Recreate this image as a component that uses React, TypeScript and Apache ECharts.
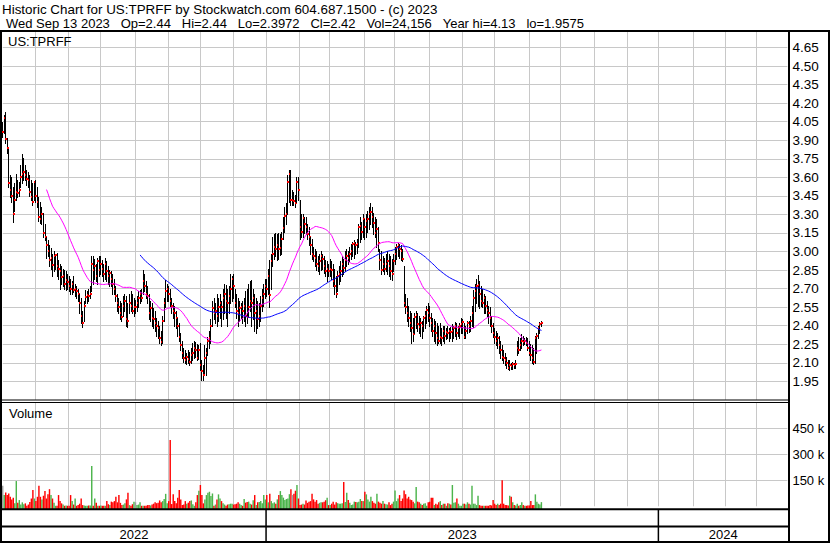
import { useEffect, useRef } from "react";
import * as echarts from "echarts";

// Each daily bar: [high, low, close, volume in thousands]
type Bar = [number, number, number, number];

const may22: Bar[] = [
  [4.05, 3.93, 3.97, 119], [4.1, 3.96, 4.08, 65], [4.13, 3.88, 3.91, 80], [3.92, 3.8, 3.84, 65],
  [3.83, 3.52, 3.55, 74], [3.62, 3.44, 3.5, 55], [3.6, 3.4, 3.45, 40], [3.52, 3.24, 3.3, 50],
  [3.55, 3.33, 3.42, 17], [3.63, 3.42, 3.48, 146], [3.58, 3.44, 3.47, 20], [3.56, 3.45, 3.5, 36],
  [3.7, 3.52, 3.6, 10], [3.79, 3.55, 3.63, 23], [3.76, 3.58, 3.64, 12], [3.7, 3.58, 3.62, 17],
  [3.66, 3.54, 3.59, 3], [3.64, 3.52, 3.58, 10], [3.62, 3.45, 3.48, 25], [3.58, 3.42, 3.44, 45],
  [3.55, 3.38, 3.4, 94], [3.57, 3.42, 3.56, 45],
];
const jun22: Bar[] = [
  [3.58, 3.4, 3.45, 30], [3.52, 3.36, 3.4, 55], [3.44, 3.25, 3.28, 119], [3.4, 3.23, 3.26, 55],
  [3.36, 3.22, 3.3, 40], [3.31, 3.12, 3.15, 61], [3.22, 3.09, 3.12, 88], [3.12, 2.95, 3.05, 45],
  [3.09, 2.96, 3.0, 70], [3.05, 2.88, 2.93, 99], [3.03, 2.86, 2.95, 65], [2.98, 2.8, 2.89, 45],
  [3.0, 2.84, 2.96, 20], [2.98, 2.86, 2.97, 3], [2.99, 2.8, 2.88, 3], [2.93, 2.78, 2.86, 65],
  [2.9, 2.7, 2.84, 30], [2.88, 2.74, 2.79, 17], [2.86, 2.72, 2.8, 10], [2.85, 2.7, 2.74, 3],
  [2.84, 2.69, 2.77, 5], [2.82, 2.7, 2.75, 3],
];
const jul22: Bar[] = [
  [2.8, 2.68, 2.72, 3], [2.78, 2.66, 2.7, 65], [2.76, 2.66, 2.74, 30], [2.8, 2.67, 2.69, 10],
  [2.74, 2.64, 2.7, 45], [2.72, 2.62, 2.68, 3], [2.7, 2.6, 2.66, 8], [2.66, 2.5, 2.58, 15],
  [2.62, 2.42, 2.48, 45], [2.52, 2.39, 2.42, 7], [2.6, 2.44, 2.56, 4], [2.69, 2.58, 2.63, 3],
  [2.68, 2.58, 2.65, 3], [2.7, 2.6, 2.64, 5], [2.72, 2.62, 2.66, 4], [2.96, 2.68, 2.9, 233],
  [2.96, 2.74, 2.85, 3], [2.94, 2.78, 2.88, 45], [2.9, 2.76, 2.8, 20], [2.95, 2.74, 2.92, 3],
  [2.96, 2.8, 2.85, 3],
];
const aug22: Bar[] = [
  [2.96, 2.82, 2.9, 4], [2.93, 2.8, 2.86, 3], [2.9, 2.76, 2.82, 3], [2.95, 2.78, 2.9, 3],
  [2.92, 2.76, 2.84, 30], [2.88, 2.74, 2.8, 12], [2.85, 2.72, 2.83, 7], [2.84, 2.72, 2.78, 27],
  [2.82, 2.66, 2.74, 23], [2.78, 2.66, 2.7, 30], [2.72, 2.6, 2.64, 55], [2.66, 2.52, 2.58, 23],
  [2.62, 2.5, 2.55, 65], [2.6, 2.45, 2.5, 20], [2.58, 2.44, 2.47, 7], [2.64, 2.48, 2.56, 10],
  [2.66, 2.52, 2.6, 17], [2.64, 2.4, 2.45, 40], [2.58, 2.39, 2.44, 78], [2.66, 2.5, 2.58, 7],
  [2.68, 2.52, 2.56, 3], [2.66, 2.5, 2.52, 12], [2.62, 2.48, 2.55, 27],
];
const sep22: Bar[] = [
  [2.61, 2.5, 2.55, 23], [2.64, 2.52, 2.58, 7], [2.68, 2.55, 2.62, 10], [2.69, 2.58, 2.66, 23],
  [2.7, 2.6, 2.62, 3], [2.85, 2.66, 2.76, 3], [2.82, 2.68, 2.72, 3], [2.76, 2.62, 2.66, 3],
  [2.72, 2.58, 2.64, 7], [2.66, 2.45, 2.5, 7], [2.6, 2.44, 2.54, 5], [2.58, 2.4, 2.46, 10],
  [2.54, 2.38, 2.45, 15], [2.52, 2.36, 2.42, 23], [2.46, 2.32, 2.4, 18], [2.44, 2.3, 2.38, 21],
  [2.4, 2.26, 2.3, 34], [2.36, 2.24, 2.27, 23], [2.48, 2.26, 2.44, 30], [2.62, 2.44, 2.58, 42],
  [2.77, 2.55, 2.68, 72], [2.74, 2.6, 2.7, 17],
];
const oct22: Bar[] = [
  [2.72, 2.6, 2.66, 30], [2.7, 2.56, 2.6, 383], [2.62, 2.5, 2.56, 13], [2.58, 2.46, 2.52, 69],
  [2.56, 2.4, 2.5, 30], [2.52, 2.38, 2.46, 17], [2.46, 2.32, 2.4, 50], [2.42, 2.28, 2.31, 94],
  [2.34, 2.2, 2.24, 40], [2.28, 2.14, 2.18, 7], [2.22, 2.11, 2.14, 10], [2.2, 2.1, 2.12, 30],
  [2.18, 2.09, 2.15, 15], [2.2, 2.1, 2.13, 21], [2.19, 2.08, 2.11, 30], [2.22, 2.1, 2.16, 34],
  [2.26, 2.12, 2.18, 12], [2.28, 2.14, 2.22, 3], [2.27, 2.15, 2.2, 23], [2.25, 2.12, 2.14, 65],
  [2.24, 2.13, 2.2, 90],
];
const nov22: Bar[] = [
  [2.26, 2.04, 2.08, 123], [2.12, 1.96, 2.03, 65], [2.08, 1.9575, 2.0, 17], [2.24, 2.02, 2.14, 40],
  [2.22, 2.0, 2.18, 65], [2.31, 2.16, 2.28, 78], [2.36, 2.22, 2.3, 84], [2.45, 2.26, 2.4, 60],
  [2.6, 2.4, 2.54, 74], [2.62, 2.45, 2.5, 3], [2.58, 2.42, 2.52, 10], [2.66, 2.4, 2.48, 40],
  [2.62, 2.44, 2.55, 69], [2.66, 2.46, 2.58, 45], [2.6, 2.4, 2.55, 30], [2.7, 2.45, 2.62, 18],
  [2.74, 2.5, 2.66, 10], [2.73, 2.46, 2.6, 3], [2.7, 2.4, 2.58, 10], [2.72, 2.5, 2.64, 12],
  [2.82, 2.58, 2.7, 15], [2.8, 2.6, 2.78, 15],
];
const dec22: Bar[] = [
  [2.82, 2.62, 2.72, 10], [2.7, 2.55, 2.58, 12], [2.66, 2.46, 2.52, 15], [2.62, 2.4, 2.5, 23],
  [2.6, 2.44, 2.54, 15], [2.58, 2.46, 2.55, 8], [2.6, 2.42, 2.52, 3], [2.62, 2.44, 2.56, 42],
  [2.68, 2.4, 2.48, 21], [2.7, 2.42, 2.47, 25], [2.74, 2.48, 2.55, 27], [2.76, 2.52, 2.6, 15],
  [2.77, 2.4, 2.58, 10], [2.7, 2.45, 2.62, 35], [2.66, 2.36, 2.5, 65], [2.62, 2.34, 2.52, 7],
  [2.6, 2.38, 2.45, 23], [2.58, 2.4, 2.48, 25], [2.64, 2.44, 2.56, 30], [2.7, 2.52, 2.62, 17],
  [2.74, 2.56, 2.66, 65], [2.78, 2.62, 2.72, 40],
];
const jan23: Bar[] = [
  [2.78, 2.64, 2.7, 65], [2.86, 2.66, 2.8, 23], [2.93, 2.55, 2.65, 72], [2.98, 2.7, 2.92, 30],
  [3.12, 2.88, 2.98, 17], [3.14, 2.94, 3.04, 23], [3.15, 2.96, 3.02, 15], [3.14, 2.93, 3.05, 40],
  [3.15, 2.94, 3.02, 65], [3.14, 2.97, 3.03, 88], [3.16, 2.98, 3.1, 65], [3.28, 3.1, 3.19, 50],
  [3.36, 3.16, 3.29, 36], [3.39, 3.22, 3.3, 42], [3.62, 3.3, 3.56, 45], [3.66, 3.4, 3.63, 70],
  [3.66, 3.38, 3.42, 99], [3.5, 3.38, 3.42, 65], [3.48, 3.38, 3.41, 72], [3.46, 3.36, 3.39, 90],
  [3.6, 3.4, 3.56, 123], [3.6, 3.42, 3.5, 45],
];
const feb23: Bar[] = [
  [3.42, 3.1, 3.2, 7], [3.3, 3.12, 3.16, 10], [3.3, 3.12, 3.27, 15], [3.28, 3.15, 3.22, 10],
  [3.28, 3.14, 3.2, 34], [3.22, 3.1, 3.14, 20], [3.2, 3.05, 3.12, 27], [3.12, 2.98, 3.05, 30],
  [3.1, 2.94, 2.98, 72], [3.04, 2.92, 2.96, 40], [3.02, 2.88, 2.95, 27], [3.0, 2.85, 2.9, 36],
  [2.96, 2.84, 2.88, 15], [2.98, 2.82, 2.92, 20], [3.0, 2.85, 2.96, 23], [2.98, 2.86, 2.94, 23],
  [2.96, 2.83, 2.88, 27], [2.93, 2.8, 2.84, 35], [2.92, 2.76, 2.86, 50], [2.9, 2.8, 2.84, 7],
];
const mar23: Bar[] = [
  [2.94, 2.8, 2.86, 7], [2.92, 2.78, 2.85, 15], [2.9, 2.72, 2.76, 27], [2.86, 2.66, 2.72, 10],
  [2.8, 2.63, 2.66, 23], [2.84, 2.68, 2.8, 18], [2.88, 2.74, 2.82, 15], [2.92, 2.76, 2.84, 15],
  [2.96, 2.8, 2.9, 17], [2.94, 2.82, 2.87, 140], [3.0, 2.84, 2.93, 25], [3.02, 2.88, 2.96, 78],
  [3.0, 2.9, 2.95, 36], [3.04, 2.92, 2.98, 20], [3.06, 2.94, 3.0, 7], [3.08, 2.96, 3.06, 10],
  [3.09, 2.95, 3.07, 27], [3.08, 2.98, 3.05, 25], [3.1, 2.99, 3.06, 23], [3.22, 3.04, 3.2, 27],
  [3.28, 3.08, 3.21, 42], [3.24, 3.1, 3.16, 30], [3.3, 3.12, 3.26, 30],
];
const apr23: Bar[] = [
  [3.26, 3.1, 3.2, 84], [3.3, 3.12, 3.25, 69], [3.33, 3.16, 3.26, 40], [3.36, 3.18, 3.3, 27],
  [3.39, 3.22, 3.32, 55], [3.36, 3.2, 3.28, 30], [3.31, 3.14, 3.23, 20], [3.28, 3.12, 3.15, 15],
  [3.26, 3.04, 3.18, 72], [3.2, 3.0, 3.07, 27], [3.02, 2.86, 2.93, 20], [3.0, 2.82, 2.85, 15],
  [2.96, 2.84, 2.9, 30], [2.95, 2.82, 2.86, 15], [2.98, 2.84, 2.9, 12], [3.0, 2.82, 2.92, 10],
  [2.98, 2.8, 2.88, 23], [2.96, 2.78, 2.84, 7], [2.94, 2.77, 2.82, 15], [2.98, 2.84, 2.92, 27],
];
const may23: Bar[] = [
  [3.04, 2.9, 2.98, 92], [3.06, 2.94, 3.04, 30], [3.07, 2.96, 3.05, 45], [3.06, 2.95, 3.02, 65],
  [3.05, 2.93, 3.0, 30], [3.02, 2.92, 2.94, 45], [2.88, 2.56, 2.58, 92], [2.66, 2.5, 2.55, 70],
  [2.62, 2.44, 2.5, 45], [2.56, 2.4, 2.46, 55], [2.52, 2.36, 2.42, 40], [2.5, 2.26, 2.38, 36],
  [2.46, 2.28, 2.33, 27], [2.5, 2.34, 2.47, 17], [2.52, 2.38, 2.49, 111], [2.5, 2.36, 2.41, 27],
  [2.48, 2.34, 2.39, 23], [2.46, 2.32, 2.42, 15], [2.44, 2.3, 2.4, 7], [2.48, 2.36, 2.46, 15],
  [2.52, 2.38, 2.48, 17], [2.56, 2.42, 2.53, 3], [2.58, 2.44, 2.5, 23],
];
const jun23: Bar[] = [
  [2.56, 2.4, 2.46, 27], [2.5, 2.36, 2.42, 50], [2.46, 2.32, 2.36, 50], [2.45, 2.28, 2.4, 7],
  [2.44, 2.26, 2.34, 15], [2.42, 2.24, 2.3, 10], [2.4, 2.26, 2.28, 23], [2.42, 2.26, 2.31, 30],
  [2.38, 2.24, 2.3, 7], [2.4, 2.28, 2.36, 15], [2.4, 2.26, 2.32, 15], [2.38, 2.29, 2.35, 3],
  [2.4, 2.3, 2.34, 17], [2.38, 2.28, 2.36, 15], [2.39, 2.3, 2.35, 10], [2.41, 2.28, 2.36, 123],
  [2.4, 2.3, 2.38, 20], [2.43, 2.32, 2.4, 23], [2.42, 2.29, 2.34, 45], [2.4, 2.32, 2.38, 15],
  [2.42, 2.3, 2.4, 3], [2.46, 2.34, 2.41, 3],
];
const jul23: Bar[] = [
  [2.45, 2.34, 2.43, 15], [2.42, 2.3, 2.31, 15], [2.4, 2.3, 2.36, 10], [2.44, 2.34, 2.42, 23],
  [2.44, 2.35, 2.4, 15], [2.48, 2.36, 2.44, 10], [2.56, 2.4, 2.5, 119], [2.69, 2.39, 2.62, 15],
  [2.74, 2.52, 2.68, 15], [2.78, 2.58, 2.72, 7], [2.81, 2.56, 2.73, 61], [2.76, 2.54, 2.66, 7],
  [2.72, 2.56, 2.6, 3], [2.7, 2.55, 2.58, 3], [2.66, 2.5, 2.62, 3], [2.64, 2.5, 2.56, 3],
  [2.6, 2.48, 2.53, 3], [2.56, 2.42, 2.5, 3], [2.55, 2.4, 2.46, 7], [2.48, 2.35, 2.4, 5],
  [2.42, 2.31, 2.34, 36],
];
const aug23: Bar[] = [
  [2.38, 2.26, 2.31, 15], [2.36, 2.24, 2.28, 7], [2.34, 2.22, 2.3, 15], [2.32, 2.18, 2.24, 7],
  [2.28, 2.14, 2.2, 15], [2.24, 2.12, 2.15, 150], [2.2, 2.1, 2.14, 15], [2.18, 2.08, 2.12, 7],
  [2.15, 2.06, 2.1, 7], [2.12, 2.05, 2.06, 5], [2.12, 2.04, 2.08, 61], [2.1, 2.05, 2.07, 55],
  [2.11, 2.05, 2.09, 23], [2.1, 2.06, 2.08, 7], [2.12, 2.06, 2.09, 5], [2.28, 2.16, 2.22, 15],
  [2.31, 2.18, 2.2, 3], [2.3, 2.2, 2.24, 7], [2.33, 2.22, 2.28, 23], [2.32, 2.24, 2.27, 7],
  [2.3, 2.25, 2.28, 3], [2.31, 2.24, 2.26, 3], [2.3, 2.2, 2.22, 5],
];
const sep23: Bar[] = [
  [2.28, 2.16, 2.18, 5], [2.25, 2.12, 2.16, 30], [2.24, 2.1, 2.14, 7], [2.22, 2.09, 2.11, 7],
  [2.32, 2.1, 2.3, 69], [2.34, 2.18, 2.32, 27], [2.4, 2.3, 2.38, 15], [2.43, 2.34, 2.41, 10],
  [2.44, 2.3972, 2.42, 24.156],
];

const MONTHS: Bar[][] = [
  may22, jun22, jul22, aug22, sep22, oct22, nov22, dec22,
  jan23, feb23, mar23, apr23, may23, jun23, jul23, aug23, sep23,
];

const TITLE = "Historic Chart for US:TPRFF by Stockwatch.com 604.687.1500 - (c) 2023";
const QUOTE_FIELDS = ["Wed Sep 13 2023", "Op=2.44", "Hi=2.44", "Lo=2.3972", "Cl=2.42", "Vol=24,156", "Year hi=4.13", "lo=1.9575"];
const SYMBOL = "US:TPRFF";
const VOLUME_LABEL = "Volume";

const AXIS_START = Date.UTC(2022, 4, 2);
const AXIS_WEEKDAYS = 521;
const MA_SHORT = 30;
const MA_LONG = 92;

const FONT = "'Liberation Sans', Arial, sans-serif";
const GRID_COLOR = "#c8c8c8";
const UP = "#4cb44c";
const DOWN = "#ff0000";
const FLAT = "#a0a0a0";

function weekdays(start: number, count: number): string[] {
  const out: string[] = [];
  let t = start;
  while (out.length < count) {
    const d = new Date(t);
    const wd = d.getUTCDay();
    if (wd !== 0 && wd !== 6) out.push(d.toISOString().slice(0, 10));
    t += 86400000;
  }
  return out;
}

function movingAverage(values: number[], n: number): (number | null)[] {
  return values.map((_, i) => {
    if (i < n - 1) return null;
    let s = 0;
    for (let k = i - n + 1; k <= i; k++) s += values[k];
    return +(s / n).toFixed(4);
  });
}

export default function App() {
  const ref = useRef<HTMLDivElement | null>(null);

  useEffect(() => {
    if (!ref.current) return;
    const chart = echarts.init(ref.current, null, { renderer: "svg" });

    const bars = MONTHS.flat();
    const dates = weekdays(AXIS_START, AXIS_WEEKDAYS);
    const closes = bars.map((b) => b[2]);
    const ohlc = bars.map((b, i) => [i, b[0], b[1], b[2]]);
    const vols = bars.map((b, i) => {
      const prev = i > 0 ? bars[i - 1][2] : b[2];
      const dir = b[2] > prev ? 1 : b[2] < prev ? -1 : 0;
      return [i, b[3] * 1000, dir];
    });
    const maShort = movingAverage(closes, MA_SHORT);
    const maLong = movingAverage(closes, MA_LONG);

    const monthStarts: number[] = [];
    dates.forEach((d, i) => {
      if (i > 0 && d.slice(0, 7) !== dates[i - 1].slice(0, 7)) monthStarts.push(i);
    });

    const xAxisBase = {
      type: "category" as const,
      data: dates,
      boundaryGap: false,
      axisLine: { show: false },
      axisTick: { show: false },
      axisLabel: { show: false },
      splitLine: { show: false },
    };

    // vertical month grid lines, drawn at the left edge of each month's first day
    const monthGrid = (yAxisIndex: number, xAxisIndex: number, yv: number) => ({
      type: "custom", silent: true, xAxisIndex, yAxisIndex, z: 1,
      data: monthStarts.map((i) => [i, yv]),
      encode: { x: 0, y: 1 },
      renderItem: (params: any, api: any) => {
        const cs = params.coordSys;
        const band = api.size([1, 0])[0];
        const x = Math.round(api.coord([api.value(0), yv])[0] - band / 2) + 0.5;
        return {
          type: "line",
          shape: { x1: x, y1: cs.y, x2: x, y2: cs.y + cs.height },
          style: { stroke: GRID_COLOR, lineWidth: 1 },
        };
      },
    });

    const labelStyle = { color: "#000", fontSize: 13.5, fontFamily: FONT, margin: 5 };
    const gridLeft = 2.75;
    const gridRight = 42.6;

    chart.setOption({
      animation: false,
      backgroundColor: "#fff",
      grid: [
        { left: gridLeft, right: gridRight, top: 28.95, height: 370.9 },
        { left: gridLeft, right: gridRight, top: 402.5, height: 103.8 },
      ],
      xAxis: [
        { ...xAxisBase, gridIndex: 0 },
        { ...xAxisBase, gridIndex: 1 },
      ],
      yAxis: [
        {
          type: "value", gridIndex: 0, position: "right", min: 1.8, max: 4.8, interval: 0.15,
          axisLine: { show: false }, axisTick: { show: false },
          axisLabel: { ...labelStyle, formatter: (v: number) => (v < 1.85 || v > 4.75 ? "" : v.toFixed(2)) },
          splitLine: { show: true, showMinLine: false, showMaxLine: false, lineStyle: { color: GRID_COLOR, width: 1 } },
        },
        {
          type: "value", gridIndex: 1, position: "right", min: 0, max: 600000, interval: 150000,
          axisLine: { show: false }, axisTick: { show: false },
          axisLabel: { ...labelStyle, fontSize: 13, formatter: (v: number) => (v <= 0 || v >= 600000 ? "" : `${Math.round(v / 1000)} k`) },
          splitLine: { show: true, showMinLine: false, showMaxLine: false, lineStyle: { color: GRID_COLOR, width: 1 } },
        },
      ],
      series: [
        monthGrid(0, 0, 1.8),
        monthGrid(1, 1, 0),
        {
          type: "custom", name: "price", xAxisIndex: 0, yAxisIndex: 0, z: 3,
          data: ohlc,
          encode: { x: 0, y: [1, 2, 3] },
          renderItem: (_p: any, api: any) => {
            const i = api.value(0);
            const top = api.coord([i, api.value(1)]);
            const bot = api.coord([i, api.value(2)]);
            const cl = api.coord([i, api.value(3)]);
            const x = Math.floor(top[0]) + 0.5;
            const cy = Math.round(cl[1]);
            return {
              type: "group",
              children: [
                { type: "line", shape: { x1: x, y1: Math.round(top[1]), x2: x, y2: Math.round(bot[1]) + 1 }, style: { stroke: "#000", lineWidth: 1 } },
                { type: "rect", shape: { x: x - 0.5, y: cy - 1, width: 2, height: 2 }, style: { fill: "#ff0000" } },
              ],
            };
          },
        },
        {
          type: "line", name: "MA short", xAxisIndex: 0, yAxisIndex: 0, z: 4,
          data: maShort, showSymbol: false, connectNulls: false,
          lineStyle: { color: "#ff00ff", width: 1 },
        },
        {
          type: "line", name: "MA long", xAxisIndex: 0, yAxisIndex: 0, z: 4,
          data: maLong, showSymbol: false, connectNulls: false,
          lineStyle: { color: "#0000ff", width: 1 },
        },
        {
          type: "custom", name: "volume", xAxisIndex: 1, yAxisIndex: 1, z: 3,
          data: vols,
          encode: { x: 0, y: 1 },
          renderItem: (_p: any, api: any) => {
            const i = api.value(0);
            const top = api.coord([i, api.value(1)]);
            const base = api.coord([i, 0]);
            const w = api.size([1, 0])[0];
            const dir = api.value(2);
            return {
              type: "rect",
              shape: { x: top[0] - w / 2, y: top[1], width: w * 0.95, height: base[1] - top[1] + 3 },
              style: { fill: dir > 0 ? UP : dir < 0 ? DOWN : FLAT },
            };
          },
        },
      ],
    });

    const px = (i: number) => chart.convertToPixel({ xAxisIndex: 0 }, i) as unknown as number;
    const band = px(1) - px(0);
    const edge = (i: number) => px(i) - band / 2;
    const leftEdge = edge(0);
    const rightEdge = edge(dates.length - 1) + band;
    const yearStarts = ["2023", "2024"].map((y) => edge(dates.findIndex((d) => d.startsWith(y))));
    const yearSpans: [string, number, number][] = [
      ["2022", leftEdge, yearStarts[0]],
      ["2023", yearStarts[0], yearStarts[1]],
      ["2024", yearStarts[1], rightEdge],
    ];

    const blk = (x: number, y: number, w: number, h: number) => ({
      type: "rect", z: 100, shape: { x, y, width: w, height: h }, style: { fill: "#000" },
    });
    const txt = (text: string, x: number, y: number, align = "left", size = 13) => ({
      type: "text", z: 101, x, y,
      style: {
        text, fill: "#000", font: `${size}px ${FONT}`,
        textAlign: align, align, textVerticalAlign: "middle", verticalAlign: "middle",
      },
    });

    chart.setOption({
      graphic: [
        { type: "rect", z: 99, shape: { x: 0, y: 0, width: 830, height: 30 }, style: { fill: "#fff" } },
        txt(TITLE, 2, 9, "left", 13.4),
        txt(QUOTE_FIELDS.join("\u00a0 \u00a0"), 6, 23),
        blk(0, 30, 830, 2),
        blk(0, 30, 2, 513),
        blk(788, 30, 2, 513),
        blk(828, 30, 2, 513),
        blk(0, 541, 830, 2),
        blk(0, 399.5, 789, 1),
        blk(0, 402, 789, 1),
        blk(0, 508.3, 790, 2),
        blk(0, 525.5, 790, 2),
        ...yearStarts.map((x) => blk(x - 0.75, 509, 1.5, 33)),
        ...yearSpans.map(([label, a, b]) => txt(label, (a + b) / 2, 534, "center")),
        txt(SYMBOL, 8, 41),
        txt(VOLUME_LABEL, 9, 413),
      ],
    });

    return () => chart.dispose();
  }, []);

  return (
    <div
      ref={ref}
      style={{ position: "absolute", left: 0, top: 0, width: 830, height: 543, background: "#fff" }}
    />
  );
}
